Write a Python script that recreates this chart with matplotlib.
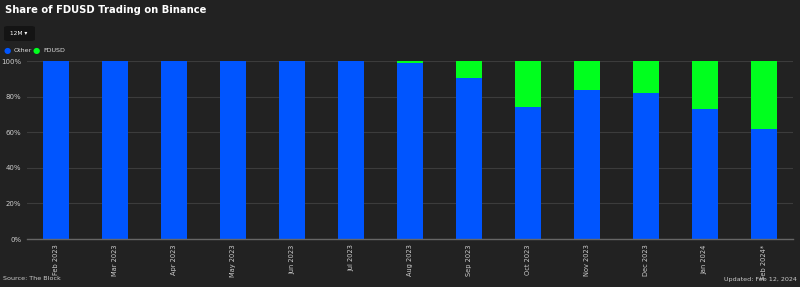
import matplotlib
matplotlib.use("Agg")
import matplotlib.pyplot as plt
from matplotlib.patches import FancyBboxPatch

months = ["Feb 2023", "Mar 2023", "Apr 2023", "May 2023", "Jun 2023", "Jul 2023",
          "Aug 2023", "Sep 2023", "Oct 2023", "Nov 2023", "Dec 2023", "Jan 2024", "Feb 2024*"]
other = [100, 100, 100, 100, 100, 100, 98.7, 90.3, 74.3, 83.6, 81.9, 73.0, 61.9]
fdusd = [100 - v for v in other]
yticks = [0, 20, 40, 60, 80, 100]

BG = "#222222"
BLUE = "#0055FF"
GREEN = "#00FF1E"

fig = plt.figure(figsize=(8.0, 2.87), dpi=100, facecolor=BG)
W, H = 800, 287
ax = fig.add_axes([27 / W, 1 - 239 / H, (793 - 27) / W, (239 - 61) / H], facecolor=BG)

x = list(range(len(months)))
ax.bar(x, other, width=0.44, color=BLUE, zorder=2)
ax.bar(x, fdusd, bottom=other, width=0.44, color=GREEN, zorder=2)

ax.set_ylim(0, 100)
ax.set_xlim(-0.5, len(months) - 0.5)
ax.set_yticks(yticks)
ax.set_yticklabels([f"{v}%" for v in yticks], fontsize=5, color="#cccccc")
ax.set_xticks(x)
ax.set_xticklabels(months, rotation=90, fontsize=4.8, color="#cccccc")
ax.tick_params(axis="both", length=0, pad=4)
ax.grid(axis="y", color="#3c3c3c", linewidth=0.8, zorder=0)
for s in ["top", "right", "left"]:
    ax.spines[s].set_visible(False)
ax.spines["bottom"].set_color("#666666")
ax.spines["bottom"].set_linewidth(1.0)

fig.text(5 / W, 1 - 10 / H, "Share of FDUSD Trading on Binance", fontsize=7.2, fontweight="bold",
         color="white", va="center", ha="left")

# 12M button
btn = FancyBboxPatch((4 / W, 1 - 41 / H), 31 / W, 15 / H, boxstyle="round,pad=0,rounding_size=0.005",
                     transform=fig.transFigure, facecolor="#141414", edgecolor="none")
fig.patches.append(btn)
fig.text(19 / W, 1 - 33.5 / H, "12M ▾", fontsize=4.2, color="white", ha="center", va="center")

# legend
fig.text(7 / W, 1 - 50 / H, "●", fontsize=6, color=BLUE, ha="center", va="center")
fig.text(14 / W, 1 - 50 / H, "Other", fontsize=4.6, color="#dddddd", ha="left", va="center")
fig.text(36 / W, 1 - 50 / H, "●", fontsize=6, color=GREEN, ha="center", va="center")
fig.text(43 / W, 1 - 50 / H, "FDUSD", fontsize=4.6, color="#dddddd", ha="left", va="center")

fig.text(3 / W, 1 - 279 / H, "Source: The Block", fontsize=4.6, color="#cccccc", ha="left", va="center")
fig.text(797 / W, 1 - 279 / H, "Updated: Feb 12, 2024", fontsize=4.6, color="#cccccc", ha="right", va="center")

fig.savefig("out.png", dpi=100, facecolor=BG)
